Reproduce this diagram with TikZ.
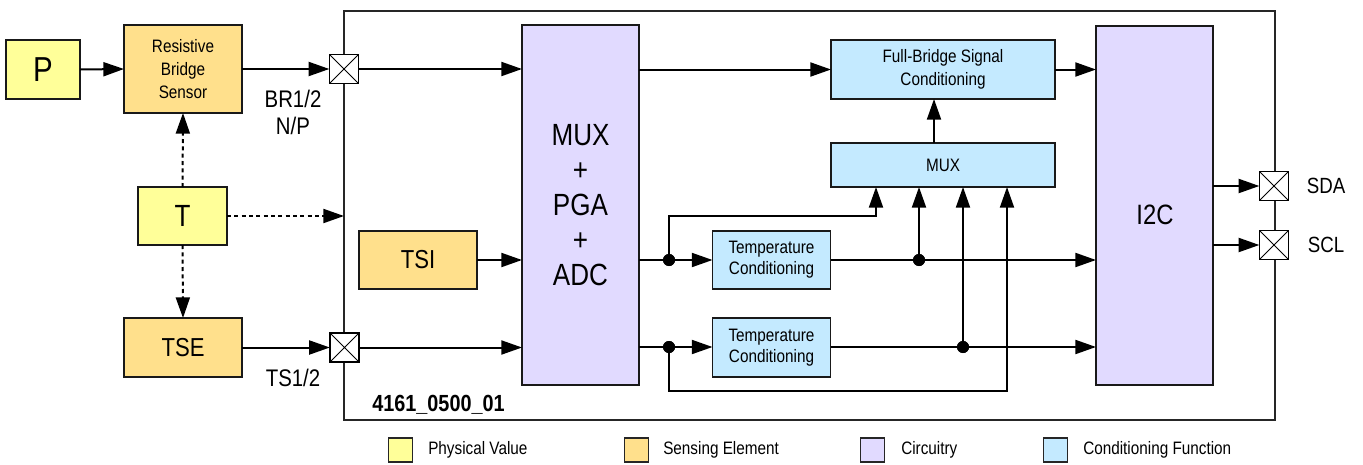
\documentclass[tikz,border=0pt]{standalone}
\usepackage{fontspec}
\setmainfont{Liberation Sans}[FakeStretch=0.85]
\usetikzlibrary{arrows.meta}
\definecolor{phys}{HTML}{FFFF99}
\definecolor{sens}{HTML}{FFE08C}
\definecolor{circ}{HTML}{E1DAFF}
\definecolor{cond}{HTML}{C4EAFF}
\newcommand\myfs[2]{\fontsize{#1}{#2}\selectfont}
\tikzset{
  blk/.style={draw=black!90, line width=1.1pt, inner sep=0pt, outer sep=0pt, align=center},
  sz/.style 2 args={minimum width=#1*0.75pt, minimum height=#2*0.75pt},
  physb/.style={blk, fill=phys},
  sensb/.style={blk, fill=sens},
  circb/.style={blk, fill=circ},
  condb/.style={blk, fill=cond},
  pad/.style={draw, line width=1.1pt, fill=white, minimum size=22pt, inner sep=0pt, outer sep=0pt,
    path picture={\draw[line width=0.6pt] (path picture bounding box.north west) -- (path picture bounding box.south east)
      (path picture bounding box.south west) -- (path picture bounding box.north east);}},
  conn/.style={line width=1.5pt, -{Triangle[length=15.5pt,width=10.5pt]}},
  wire/.style={line width=1.5pt},
  dotconn/.style={conn, dash pattern=on 3pt off 2.5pt},
  jdot/.style={circle, fill, inner sep=0pt, minimum size=9pt},
  lbl/.style={inner sep=0pt, align=center},
  legsq/.style={draw=black!85, line width=0.8pt, inner sep=0pt, minimum width=18pt, minimum height=18pt},
  legtx/.style={anchor=west, inner sep=0pt, font=\myfs{13.5}{16}}
}
\begin{document}
\begin{tikzpicture}[x=0.75pt, y=-0.75pt]
\useasboundingbox (0,0) rectangle (1363,464);

% chip outline
\node[draw=black!85, line width=1.1pt, sz={931}{409}, inner sep=0pt, outer sep=0pt] (chip) at (809.5,215.5) {};

% left side
\node[physb, sz={74}{59}, font=\myfs{26}{30}] (P) at (43,69.5) {P};
\node[sensb, sz={118}{88}, font=\myfs{13.5}{17}] (RBS) at (183,69) {Resistive\\Bridge\\Sensor};
\node[physb, sz={89}{58}, font=\myfs{23}{26}] (T) at (182.5,216) {T};
\node[sensb, sz={118}{59}, font=\myfs{19.5}{22}] (TSE) at (183,347.5) {TSE};

% inside
\node[circb, sz={117}{360}, font=\myfs{23}{26.25}] (MUXA) at (580.5,205) {MUX\\+\\PGA\\+\\ADC};
\node[sensb, sz={118}{58}, font=\myfs{19.5}{22}] (TSI) at (418,260) {TSI};
\node[condb, sz={224}{59}, font=\myfs{13.5}{17}] (FBSC) at (943,69.5) {Full-Bridge Signal\\Conditioning};
\node[condb, sz={224}{44}, font=\myfs{13.5}{17}] (MUXS) at (943,165) {MUX};
\node[circb, sz={117}{359}] (I2C) at (1154.5,205.5) {};
\node[lbl, font=\myfs{21}{24}] (I2Ct) at (1155,215) {I2C};
\node[condb, sz={118}{58}, font=\myfs{13.5}{16}] (TC1) at (771.5,260) {Temperature\\Conditioning};
\node[condb, sz={118}{59}, font=\myfs{13.5}{16}] (TC2) at (771.5,347.5) {Temperature\\Conditioning};

% pads
\node[pad] (padBR) at (344,69) {};
\node[pad] (padTS) at (344.5,347.5) {};
\node[pad] (padSDA) at (1274,186) {};
\node[pad] (padSCL) at (1274,245) {};

% junction dots and bend points
\node[jdot] (d1) at (669,260) {};
\node[jdot] (d2) at (669,347) {};
\node[jdot] (d3) at (919,260) {};
\node[jdot] (d4) at (963,347) {};
\coordinate (b1) at (876,216);
\coordinate (b2) at (1007,391);
\coordinate (xm) at (934,0);

% labels
\node[lbl, font=\myfs{18}{20.25}] (lBR) at (293,112.5) {BR1/2\\N/P};
\node[lbl, font=\myfs{18}{20}] (lTS) at (293,378) {TS1/2};
\node[lbl, font=\myfs{16.5}{20}] (lSDA) at (1326,186) {SDA};
\node[lbl, font=\myfs{16.5}{20}] (lSCL) at (1326,245) {SCL};
\node[lbl, font=\bfseries\myfs{17.5}{20}] (lid) at (438.5,405) {4161\_0500\_01};

% connectors left
\draw[conn] (P.east) -- (RBS.west);
\draw[conn] (RBS.east) -- (padBR.west);
\draw[conn] (TSE.east) -- (padTS.west);
\draw[dotconn] (T.north) -- (RBS.south);
\draw[dotconn] (T.south) -- (TSE.north);
\draw[dotconn] (T.east) -- (chip.west |- T.east);

% into MUX/PGA/ADC
\draw[conn] (padBR.east) -- (MUXA.west |- padBR.east);
\draw[conn] (TSI.east) -- (MUXA.west |- TSI.east);
\draw[conn] (padTS.east) -- (MUXA.west |- padTS.east);

% bridge path
\draw[conn] (MUXA.east |- FBSC.west) -- (FBSC.west);
\draw[conn] (MUXS.north -| xm) -- (FBSC.south -| xm);
\draw[conn] (FBSC.east) -- (I2C.west |- FBSC.east);

% temperature paths
\draw[wire] (MUXA.east |- d1) -- (d1.center);
\draw[conn] (d1.center) -- (TC1.west);
\draw[conn] (d1.center) |- (b1) -- (MUXS.south -| b1);
\draw[conn] (TC1.east) -- (I2C.west |- TC1.east);
\draw[conn] (d3.center) -- (MUXS.south -| d3);

\draw[wire] (MUXA.east |- d2) -- (d2.center);
\draw[conn] (d2.center) -- (TC2.west |- d2);
\draw[conn] (d2.center) |- (b2) -- (MUXS.south -| b2);
\draw[conn] (TC2.east |- d2) -- (I2C.west |- d2);
\draw[conn] (d4.center) -- (MUXS.south -| d4);

% redraw dots on top
\node[jdot] at (d1) {};
\node[jdot] at (d2) {};
\node[jdot] at (d3) {};
\node[jdot] at (d4) {};

% I2C outputs
\draw[conn] (I2C.east |- padSDA) -- (padSDA.west);
\draw[conn] (I2C.east |- padSCL) -- (padSCL.west);

% legend
\node[legsq, fill=phys] (lg1) at (400.5,450) {};
\node[legtx] (lt1) at (428,450) {Physical Value};
\node[legsq, fill=sens] (lg2) at (636.5,450) {};
\node[legtx] (lt2) at (663,450) {Sensing Element};
\node[legsq, fill=circ] (lg3) at (872.5,450) {};
\node[legtx] (lt3) at (901,450) {Circuitry};
\node[legsq, fill=cond] (lg4) at (1055.5,450) {};
\node[legtx] (lt4) at (1083,450) {Conditioning Function};
\end{tikzpicture}
\end{document}
